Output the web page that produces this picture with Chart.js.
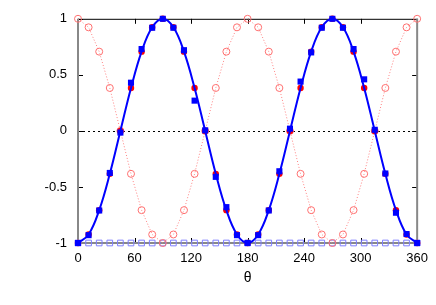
<!DOCTYPE html>
<html>
<head>
<meta charset="utf-8">
<script src="https://cdn.jsdelivr.net/npm/chart.js@4.4.1/dist/chart.umd.min.js"></script>
<style>
  html, body { margin: 0; padding: 0; background: #fff; }
  #wrap { width: 436px; height: 305px; }
</style>
</head>
<body>
<div id="wrap"><canvas id="myChart" width="436" height="305"></canvas></div>
<script>
// angle samples (degrees)
const theta = [0, 11.25, 22.5, 33.75, 45, 56.25, 67.5, 78.75, 90, 101.25, 112.5, 123.75, 135, 146.25, 157.5, 168.75,
               180, 191.25, 202.5, 213.75, 225, 236.25, 247.5, 258.75, 270, 281.25, 292.5, 303.75, 315, 326.25, 337.5, 348.75, 360];
// exact curve (blue line + red filled circles)
const exact = [-1, -0.924, -0.707, -0.383, 0, 0.383, 0.707, 0.924, 1, 0.924, 0.707, 0.383, 0, -0.383, -0.707, -0.924,
               -1, -0.924, -0.707, -0.383, 0, 0.383, 0.707, 0.924, 1, 0.924, 0.707, 0.383, 0, -0.383, -0.707, -0.924, -1];
// measured points (blue filled squares)
const measured = [-1, -0.93, -0.71, -0.375, -0.015, 0.43, 0.73, 0.92, 1, 0.92, 0.72, 0.27, 0.005, -0.41, -0.68, -0.93,
                  -1, -0.93, -0.71, -0.36, 0.02, 0.44, 0.70, 0.92, 1, 0.92, 0.73, 0.46, 0.01, -0.38, -0.73, -0.92, -1];
// shifted curve (red open circles, dotted)
const shifted = [1, 0.924, 0.707, 0.383, 0, -0.383, -0.707, -0.924, -1, -0.924, -0.707, -0.383, 0, 0.383, 0.707, 0.924,
                 1, 0.924, 0.707, 0.383, 0, -0.383, -0.707, -0.924, -1, -0.924, -0.707, -0.383, 0, 0.383, 0.707, 0.924, 1];
// baseline (blue open squares)
const baseline = [-1, -1, -1, -1, -1, -1, -1, -1, -1, -1, -1, -1, -1, -1, -1, -1,
                  -1, -1, -1, -1, -1, -1, -1, -1, -1, -1, -1, -1, -1, -1, -1, -1, -1];
const xTicks = [0, 60, 120, 180, 240, 300, 360];
const yTicks = [-1, -0.5, 0, 0.5, 1];

const pts = ys => theta.map((t, i) => ({x: t, y: ys[i]}));

// frame + inward ticks + dotted zero line, gnuplot style
const framePlugin = {
    id: 'frame',
    beforeDatasetsDraw(chart) {
        const {ctx, chartArea: a, scales: {x, y}} = chart;
        ctx.save();
        // zero line
        const y0 = Math.round(y.getPixelForValue(0)) + 0.5;
        ctx.lineWidth = 1;
        ctx.strokeStyle = '#000';
        ctx.setLineDash([2, 3]);
        ctx.beginPath();
        ctx.moveTo(a.left, y0); ctx.lineTo(a.right, y0);
        ctx.stroke();
        ctx.setLineDash([]);

        ctx.beginPath();
        xTicks.forEach(v => {
            const px = Math.round(x.getPixelForValue(v)) + 0.5;
            ctx.moveTo(px, a.top); ctx.lineTo(px, a.top + 5);
            ctx.moveTo(px, a.bottom); ctx.lineTo(px, a.bottom - 5);
        });
        yTicks.forEach(v => {
            const py = Math.round(y.getPixelForValue(v)) + 0.5;
            ctx.moveTo(a.left, py); ctx.lineTo(a.left + 5, py);
            ctx.moveTo(a.right, py); ctx.lineTo(a.right - 5, py);
        });
        ctx.stroke();
        // top border
        ctx.beginPath();
        ctx.moveTo(a.left, a.top + 0.5); ctx.lineTo(a.right, a.top + 0.5);
        ctx.stroke();
        // gray borders
        ctx.strokeStyle = '#888';
        ctx.lineWidth = 2;
        ctx.beginPath();
        ctx.moveTo(a.left, a.top); ctx.lineTo(a.left, a.bottom);
        ctx.lineTo(a.right, a.bottom); ctx.lineTo(a.right, a.top);
        ctx.stroke();
        ctx.restore();
    }
};

const ctx = document.getElementById('myChart').getContext('2d');
const myChart = new Chart(ctx, {
    type: 'scatter',
    data: {
        datasets: [
            {   // measured
                data: pts(measured),
                showLine: false,
                pointStyle: 'rect',
                pointRadius: 4.3,
                backgroundColor: '#0000ff',
                borderColor: '#0000ff',
                borderWidth: 0,
                clip: false
            },
            {   // exact curve
                data: pts(exact),
                showLine: true,
                tension: 0.4,
                pointRadius: 0,
                borderColor: '#0000ff',
                borderWidth: 2,
                clip: false
            },
            {   // exact points
                data: pts(exact),
                showLine: false,
                pointRadius: 3.2,
                backgroundColor: '#ff0000',
                borderColor: '#ff0000',
                borderWidth: 0,
                clip: false
            },
            {   // shifted
                data: pts(shifted),
                showLine: true,
                pointRadius: 3.5,
                pointStyle: 'circle',
                backgroundColor: 'rgba(0,0,0,0)',
                borderColor: '#ff8080',
                pointBorderColor: '#ff7070',
                borderWidth: 1,
                pointBorderWidth: 1,
                borderDash: [1, 2],
                clip: false
            },
            {   // baseline
                data: pts(baseline),
                showLine: false,
                pointStyle: 'rect',
                pointRadius: 4,
                backgroundColor: 'rgba(0,0,0,0)',
                borderColor: '#7f7fff',
                borderWidth: 1,
                clip: false
            }
        ]
    },
    options: {
        responsive: false,
        animation: false,
        events: [],
        layout: { padding: { left: 0, top: 17, right: 18, bottom: 0 } },
        plugins: { legend: { display: false }, tooltip: { enabled: false } },
        scales: {
            x: {
                type: 'linear',
                min: 0, max: 360,
                afterBuildTicks: s => { s.ticks = xTicks.map(v => ({value: v})); },
                afterFit: s => { s.height = 62; },
                grid: { display: false, drawTicks: false },
                border: { display: false },
                ticks: { color: '#000', padding: 8, autoSkip: false, maxRotation: 0,
                         callback: v => String(v),
                         font: { family: 'Liberation Sans', size: 13 } },
                title: { display: true, text: 'θ', color: '#000', padding: { top: 0, bottom: 18 },
                         font: { family: 'Liberation Sans', size: 14 } }
            },
            y: {
                min: -1, max: 1,
                afterBuildTicks: s => { s.ticks = yTicks.map(v => ({value: v})); },
                afterFit: s => { s.width = 78; },
                grid: { display: false, drawTicks: false },
                border: { display: false },
                ticks: { color: '#000', padding: 11, autoSkip: false,
                         callback: v => String(v),
                         font: { family: 'Liberation Sans', size: 13 } }
            }
        }
    },
    plugins: [framePlugin]
});
</script>
</body>
</html>
